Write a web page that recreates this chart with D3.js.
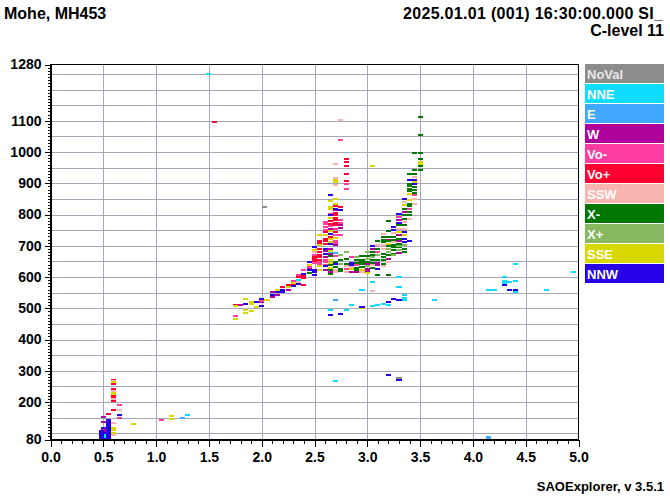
<!DOCTYPE html>
<html><head><meta charset="utf-8">
<script src="https://cdn.jsdelivr.net/npm/d3@7/dist/d3.min.js"></script>
<style>
body{margin:0;background:#fff}
text{font-family:"Liberation Sans",Arial,sans-serif;font-weight:bold}
</style>
</head><body>
<svg id="chart" width="670" height="496"></svg>
<script>
// ---------- data (frequency MHz, virtual height km) ----------
const categories = ["NoVal","NNE","E","W","Vo-","Vo+","SSW","X-","X+","SSE","NNW"];
const categoryColors = ["#8c8c8c","#10dcff","#40a8ff","#b0009c","#ff3ca0","#ff0030","#f8b4b0","#007800","#88b860","#d8d800","#2800e8"];

const noValPts = [[2.03,824],[3.30,276]];
const nnePts = [[1.50,1249],[1.30,157],[2.35,592],[2.50,654],[2.65,680],[0.50,88],[0.50,94],
  [3.30,599],[3.05,583],[2.95,557],[3.30,567],[3.35,541],[3.35,534],[3.35,527],[3.20,509],[3.15,513],
  [3.10,509],[3.05,506],[2.85,509],[2.80,493],[2.65,493],[3.64,525],[4.15,560],[4.20,557],[4.30,599],
  [4.30,587],[4.30,581],[4.35,583],[4.40,586],[4.40,551],[4.40,643],[4.70,557],[4.95,615],[2.70,267]];
const ePts = [[1.25,150],[2.70,528],[2.70,677],[4.15,84],[4.15,89]];
const wPts = [[1.80,509],[2.00,521],[2.10,553],[2.10,537],[2.15,544],[2.25,560],[2.45,627],[2.60,684],
  [2.60,665],[2.60,622],[2.65,691],[2.65,675],[2.65,617],[2.70,702],[2.85,617],[2.90,615],[3.00,643],
  [3.00,627],[3.00,620],[3.05,691],[3.10,645],[3.10,638],[3.20,659],[3.30,716],[3.30,677],
  [3.35,809],[3.30,782],[3.30,734],[3.20,718],[2.65,755],[2.70,814],[2.75,766],[2.75,757],
  [0.50,153],[0.50,137],[0.50,112],[0.50,106],[0.55,110]];
const voMinusPts = [[1.75,474],[2.00,523],[2.30,588],[2.35,608],[2.40,624],[2.45,633],[2.50,670],[2.50,645],
  [2.55,649],[2.55,641],[2.60,656],[2.60,649],[2.60,640],[2.70,715],[2.70,709],[2.70,667],[2.80,627],
  [2.85,665],[2.90,638],[3.10,681],[3.45,862],[3.40,819],[3.30,793],[2.65,803],[2.65,763],[2.70,755],
  [2.70,734],[2.75,1040],[2.75,782],[2.75,773],[2.75,734],[2.80,899],[2.80,883],[2.60,777],[2.60,769],
  [2.60,761],[2.60,752],[0.65,189],[0.65,150],[1.05,141]];
const voPlusPts = [[1.75,512],[2.20,567],[2.25,576],[2.30,576],[2.35,601],[2.40,604],[2.40,597],[2.40,574],
  [2.50,665],[2.50,659],[2.50,652],[2.55,716],[2.55,709],[2.55,691],[2.55,681],[2.55,670],[2.55,663],
  [2.55,656],[2.60,715],[2.60,707],[2.60,745],[2.60,723],[2.65,780],[2.65,771],[2.65,729],[2.70,827],
  [2.70,805],[2.70,797],[2.70,789],[2.70,781],[2.70,773],[2.70,766],[2.70,745],[2.75,825],[2.80,979],
  [2.80,969],[2.80,955],[2.80,931],[2.80,907],[0.60,272],[0.60,257],[0.60,243],[0.60,221],[0.60,217],
  [0.60,203],[0.60,176],[0.55,161],[1.55,1096]];
const sswPts = [[2.05,525],[2.35,585],[2.50,679],[2.70,624],[2.70,617],[2.80,635],[2.80,617],[2.85,633],
  [2.95,615],[3.05,638],[3.10,702],[3.15,702],[3.15,691],[3.15,635],[3.20,649],[3.25,713],[3.45,921],
  [3.45,851],[3.45,835],[3.40,787],[3.35,841],[3.35,777],[3.35,755],[3.30,755],[3.25,741],[3.15,739],
  [2.70,963],[2.70,918],[2.70,894],[2.75,1104],[3.05,554],[0.60,268],[0.60,236],[0.60,209],[0.60,133],
  [0.60,94],[0.65,173]];
const xMinusPts = [[2.65,667],[2.65,638],[2.65,624],[2.65,609],[2.70,649],[2.70,633],[2.75,654],[2.75,627],
  [2.75,620],[2.80,659],[2.80,643],[2.90,654],[2.90,645],[2.90,630],[2.90,622],[2.95,667],[2.95,656],
  [2.95,649],[2.95,641],[2.95,633],[3.00,667],[3.00,649],[3.05,681],[3.05,670],[3.05,654],[3.05,645],
  [3.05,630],[3.10,716],[3.10,691],[3.10,654],[3.10,606],[3.15,713],[3.15,675],[3.15,665],[3.15,654],
  [3.15,643],[3.20,716],[3.20,699],[3.20,670],[3.25,702],[3.25,695],[3.25,686],[3.25,675],[3.30,707],
  [3.30,695],[3.35,691],[3.35,681],[3.25,729],[3.25,718],[3.20,779],[3.20,747],[3.20,729],[3.15,729],
  [3.15,718],[3.30,766],[3.30,723],[3.35,819],[3.35,798],[3.35,787],[3.35,766],[3.40,931],[3.40,899],
  [3.40,891],[3.40,883],[3.40,876],[3.40,835],[3.40,827],[3.40,809],[3.40,798],[3.45,997],[3.45,944],
  [3.45,929],[3.45,889],[3.45,878],[3.45,869],[3.50,1111],[3.50,1054],[3.50,997],[3.50,979],[3.50,955],
  [3.50,942],[3.20,606],[2.45,614]];
const xPlusPts = [[2.75,670],[2.75,641],[2.80,681],[2.90,665],[3.00,681],[3.00,659],[3.00,635],[3.05,663],
  [3.10,670],[3.20,691],[3.20,681],[3.25,670],[3.30,699],[3.30,686],[3.35,702],[2.70,643]];
const ssePts = [[1.75,508],[1.75,467],[1.85,531],[1.85,494],[1.85,486],[1.90,520],[1.90,513],[1.90,491],
  [1.95,505],[2.05,528],[2.15,560],[2.25,569],[2.30,582],[2.45,640],[2.50,688],[2.55,702],[2.55,635],
  [2.55,622],[2.65,713],[2.65,684],[2.65,654],[2.65,645],[2.65,630],[2.85,627],[2.95,622],[3.00,613],
  [3.20,707],[3.50,969],[3.50,963],[3.45,905],[3.40,865],[3.40,848],[3.35,830],[3.35,734],[3.30,745],
  [3.05,955],[2.65,843],[2.65,825],[2.65,818],[2.65,790],[2.65,748],[2.65,723],[2.70,910],[2.70,903],
  [2.70,851],[2.70,835],[2.70,725],[2.60,734],[2.55,734],[0.60,263],[0.60,230],[0.60,225],[0.60,118],
  [0.60,110],[0.60,101],[0.79,131],[1.15,154],[1.15,145],[2.95,501]];
const nnwPts = [[1.85,515],[1.95,520],[2.00,530],[2.00,507],[2.10,544],[2.15,553],[2.20,558],[2.20,551],
  [2.30,571],[2.35,579],[2.40,611],[2.45,648],[2.45,622],[2.50,697],[2.50,624],[2.50,617],[2.50,606],
  [2.60,691],[2.60,675],[2.60,635],[2.65,705],[2.70,641],[2.85,645],[2.85,638],[3.05,699],[3.10,627],
  [3.35,713],[3.40,714],[3.45,912],[3.45,897],[3.40,910],[3.35,851],[3.35,745],[3.35,723],[3.30,803],
  [3.30,773],[3.25,761],[3.25,752],[2.65,862],[2.65,798],[2.65,739],[2.70,819],[2.75,816],
  [3.25,531],[3.30,525],[3.20,519],[2.95,505],[2.75,483],[2.65,477],[4.30,573],[4.35,560],[4.40,557],
  [3.20,286],[3.30,270],[0.65,157],
  [0.55,142],[0.55,136],[0.55,130],[0.55,124],[0.55,118],[0.55,112],[0.55,106],[0.55,100],[0.55,94],
  [0.55,88],[0.55,82],[0.50,118],[0.50,100],[0.50,82],[0.48,108],[0.48,102],[0.48,96],[0.48,90],[0.48,84]];

const seriesValues = [noValPts,nnePts,ePts,wPts,voMinusPts,voPlusPts,sswPts,xMinusPts,xPlusPts,ssePts,nnwPts];

const xTickLabels = [0,0.5,1,1.5,2,2.5,3,3.5,4,4.5,5];
const yTickLabels = [80,200,300,400,500,600,700,800,900,1000,1100,1280];
const yGridValues = d3.range(100,1251,50);
const xGridValues = d3.range(0.5,4.51,0.5);

// ---------- drawing ----------
const svg = d3.select("#chart");
const x = d3.scaleLinear().domain([0,5]).range([50.5,578.5]);
const y = d3.scaleLinear().domain([80,1280]).range([439.5,64.5]);
const MW = 0.048, MH = 6.4;

svg.append("rect").attr("width",670).attr("height",496).attr("fill","#fff");

// grid
const grid = svg.append("g").attr("stroke","#a4a8b8").attr("stroke-width",1).attr("shape-rendering","crispEdges");
grid.selectAll("line.h").data(yGridValues).join("line").attr("class","h")
  .attr("x1",x(0)).attr("x2",x(5)).attr("y1",d=>Math.round(y(d))+0.5).attr("y2",d=>Math.round(y(d))+0.5);
grid.selectAll("line.v").data(xGridValues).join("line").attr("class","v")
  .attr("y1",y(80)).attr("y2",y(1280)).attr("x1",d=>Math.round(x(d))+0.5).attr("x2",d=>Math.round(x(d))+0.5);

// marks
const marks = svg.append("g").attr("shape-rendering","crispEdges");
categories.forEach((c,i)=>{
  marks.append("g").selectAll("rect").data(seriesValues[i]).join("rect")
    .attr("x",d=>x(d[0]-MW/2)).attr("y",d=>y(d[1]+MH/2))
    .attr("width",x(MW)-x(0)).attr("height",y(0)-y(MH))
    .attr("fill",categoryColors[i]);
});

// axes
function styleAxis(g){ g.selectAll("text").attr("font-size",14).attr("font-family","Liberation Sans, Arial, sans-serif").attr("font-weight","bold").attr("fill","#000"); g.selectAll("line,path").attr("stroke","#000").attr("shape-rendering","crispEdges"); }
svg.append("g").attr("transform",`translate(${x(0)},0)`)
  .call(d3.axisLeft(y).tickValues(d3.range(80,1281,10)).tickSize(3).tickFormat("").tickSizeOuter(0)).call(styleAxis);
svg.append("g").attr("transform",`translate(${x(0)},0)`)
  .call(d3.axisLeft(y).tickValues(yTickLabels).tickSize(6).tickPadding(3).tickSizeOuter(0).tickFormat(d3.format("d"))).call(styleAxis);
svg.append("g").attr("transform",`translate(0,${y(80)})`)
  .call(d3.axisBottom(x).tickValues(d3.range(0,5.001,0.1)).tickSize(4).tickFormat("").tickSizeOuter(0)).call(styleAxis);
svg.append("g").attr("transform",`translate(0,${y(80)})`)
  .call(d3.axisBottom(x).tickValues(xTickLabels).tickSize(7).tickPadding(6).tickSizeOuter(0).tickFormat(d3.format(".1f"))).call(styleAxis);
// frame
svg.append("rect").attr("x",x(0)).attr("y",y(1280)).attr("width",x(5)-x(0)).attr("height",y(80)-y(1280))
  .attr("fill","none").attr("stroke","#000").attr("shape-rendering","crispEdges");

// legend
const leg = svg.append("g");
categories.forEach((c,i)=>{
  leg.append("rect").attr("x",585).attr("y",64+20*i).attr("width",79).attr("height",19).attr("fill",categoryColors[i]);
  leg.append("text").attr("x",587).attr("y",64+20*i+15).attr("font-size",13).attr("fill",i===0?"#e8e8e8":"#fff").text(c);
});

// titles
svg.append("text").attr("x",4).attr("y",19).attr("font-size",16).text("Mohe, MH453");
svg.append("text").attr("x",663).attr("y",19).attr("font-size",16).attr("text-anchor","end")
  .attr("textLength",260).attr("lengthAdjust","spacing").text("2025.01.01 (001) 16:30:00.000 SI_");
svg.append("text").attr("x",664).attr("y",36).attr("font-size",16).attr("text-anchor","end").text("C-level 11");
svg.append("text").attr("x",664).attr("y",491).attr("font-size",13).attr("text-anchor","end").text("SAOExplorer, v 3.5.1");
</script>
</body></html>
